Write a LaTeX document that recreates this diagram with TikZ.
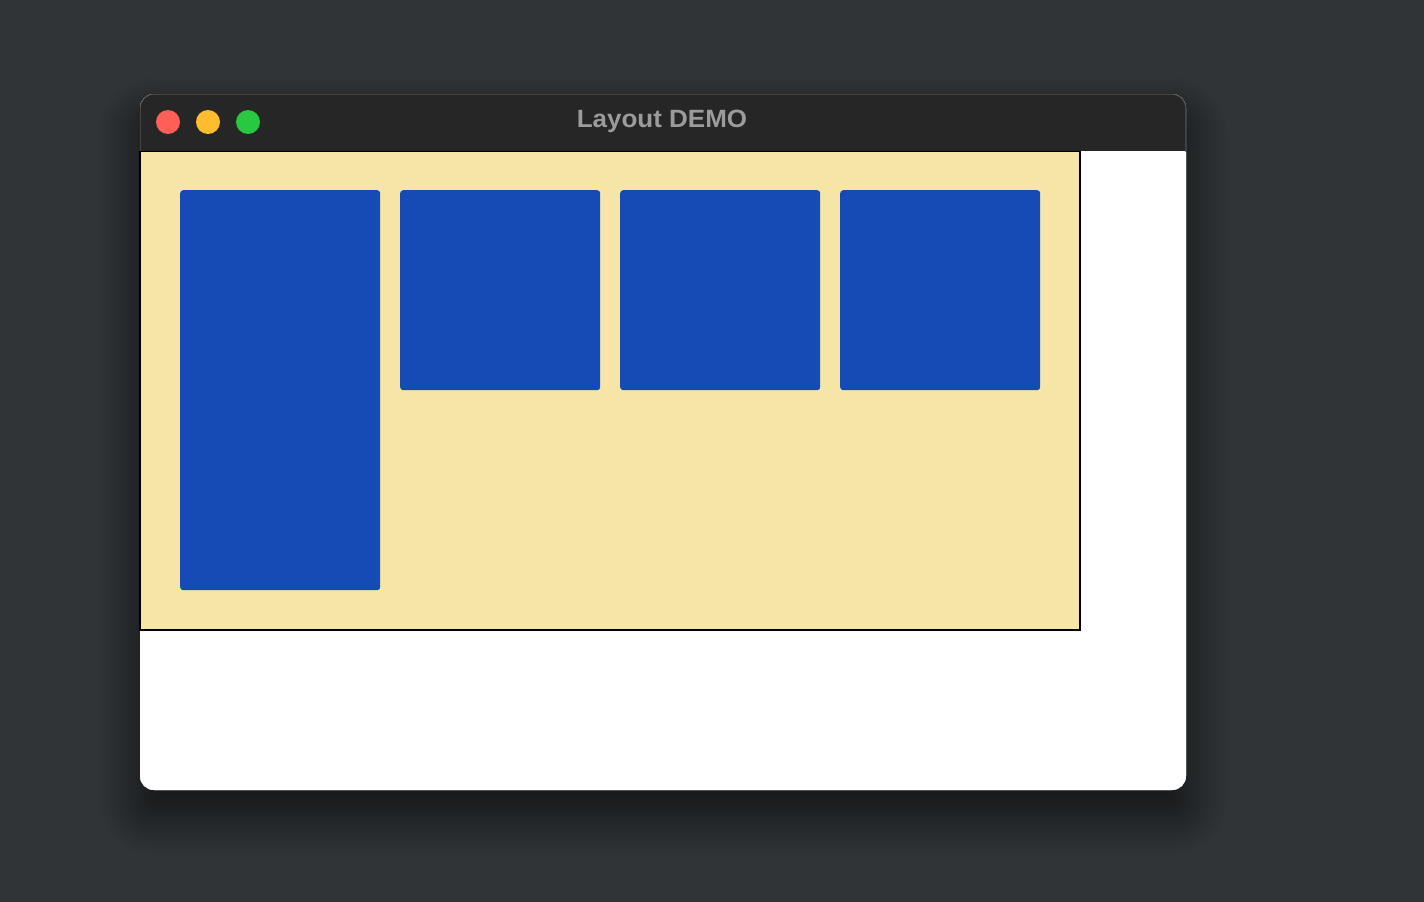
\documentclass[tikz,border=0pt]{standalone}
\usepackage{fontspec}
\setmainfont{Liberation Sans}
\usetikzlibrary{shadows.blur}
\definecolor{bgdark}{RGB}{48,52,55}
\definecolor{titlebar}{RGB}{38,38,38}
\definecolor{titlefg}{RGB}{155,155,155}
\definecolor{panelyellow}{RGB}{245,230,168}
\definecolor{boxblue}{RGB}{22,75,181}
\definecolor{tlred}{RGB}{255,95,87}
\definecolor{tlyellow}{RGB}{254,188,46}
\definecolor{tlgreen}{RGB}{40,200,64}
\definecolor{edgegray}{RGB}{85,85,85}
\tikzset{
  bluebox/.style={fill=boxblue, rounded corners=3pt, anchor=north west, inner sep=0pt, minimum width=200pt},
  light/.style={circle, inner sep=0pt, minimum size=24pt},
}
\begin{document}
\begin{tikzpicture}[x=1pt,y=-1pt]
\useasboundingbox (0,0) rectangle (1424,902);
\fill[bgdark] (0,0) rectangle (1424,902);
% shadow
\fill[rounded corners=14pt, white, blur shadow={shadow xshift=0pt, shadow yshift=-24pt, shadow blur radius=40pt, shadow blur steps=20, shadow opacity=65}] (140,94) rectangle (1186,790);
\begin{scope}
  \clip[rounded corners=14pt] (140,94) rectangle (1186,790);
  \fill[white] (140,94) rectangle (1186,790);
  \fill[titlebar] (140,94) rectangle (1186,151);
  \draw[edgegray, line width=1.2pt, rounded corners=14pt] (140,94) rectangle (1186,790);
  \fill[white] (138,152) rectangle (1188,792);
  % yellow panel
  \node[draw=black, line width=1.1pt, fill=panelyellow, anchor=north west, inner sep=0pt, minimum width=940pt, minimum height=479pt] (panel) at (140,151) {};
\end{scope}
\draw[black, line width=1.1pt] (140,151) -- (140,630) -- (1080,630) -- (1080,151);
% traffic lights
\node[light, fill=tlred] (close) at (168,122) {};
\node[light, fill=tlyellow] (minimize) at (208,122) {};
\node[light, fill=tlgreen] (zoom) at (248,122) {};
\node[text=titlefg, font=\bfseries\fontsize{25}{30}\selectfont, xscale=1.04] (title) at (662,121) {Layout DEMO};
% blue boxes
\node[bluebox, minimum height=400pt] (b1) at (180,190) {};
\node[bluebox, minimum height=200pt] (b2) at (400,190) {};
\node[bluebox, minimum height=200pt] (b3) at (620,190) {};
\node[bluebox, minimum height=200pt] (b4) at (840,190) {};
\end{tikzpicture}
\end{document}
